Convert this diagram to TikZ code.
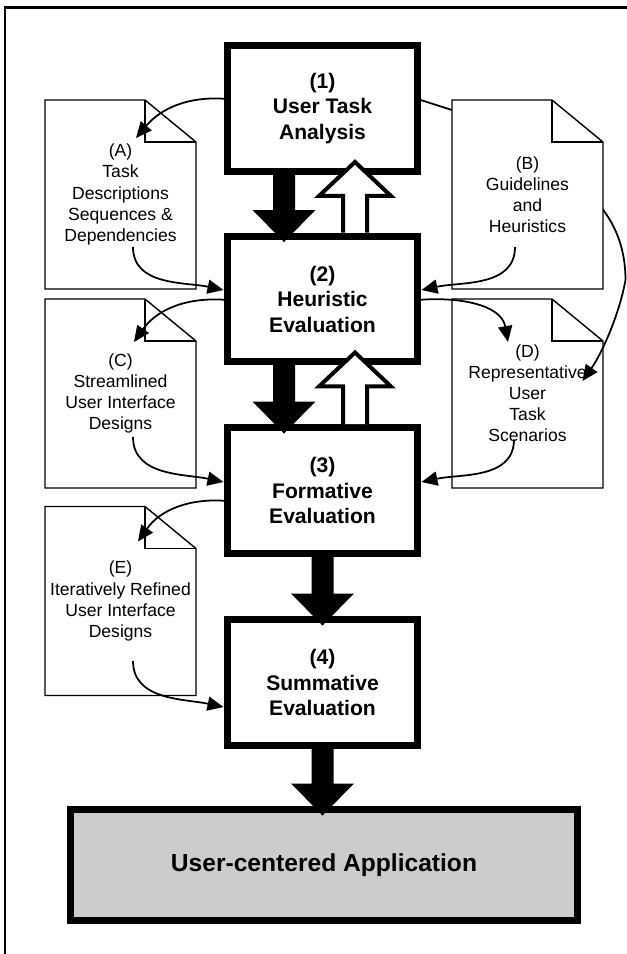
\documentclass[tikz,border=0pt]{standalone}
\usepackage{fontspec}
\setmainfont{Liberation Sans}
\usetikzlibrary{arrows.meta, calc, backgrounds}

\begin{document}
\begin{tikzpicture}[x=0.02cm, y=0.02cm,
        stage/.style={draw, line width=0.14cm, minimum width=3.8cm, minimum height=2.52cm,
            inner sep=0pt, outer sep=0pt, align=center, font=\bfseries\fontsize{12}{14.5}\selectfont},
        doc/.style={minimum width=3.02cm, minimum height=3.78cm, inner sep=0pt, outer sep=0pt,
            align=center, font=\fontsize{10}{12}\selectfont},
        docline/.style={draw, fill=white, line width=0.8pt},
        flow/.style={line width=1pt, -{Triangle[length=0.32cm, width=0.28cm]}},
        down block/.style={fill=black, to path={let \p1=(\tikztostart), \p2=(\tikztotarget) in
            (\x1-0.22cm,\y1) -- (\x1-0.22cm,\y2+0.64cm) -- (\x1-0.63cm,\y2+0.64cm) -- (\x2,\y2)
            -- (\x1+0.63cm,\y2+0.64cm) -- (\x1+0.22cm,\y2+0.64cm) -- (\x1+0.22cm,\y1)}},
        up block/.style={draw, fill=white, line width=0.08cm, miter limit=10,
            to path={let \p1=(\tikztostart), \p2=(\tikztotarget) in
            (\x1-0.24cm,\y1) -- (\x1-0.24cm,\y2-0.68cm) -- (\x1-0.72cm,\y2-0.68cm) -- (\x2,\y2)
            -- (\x1+0.72cm,\y2-0.68cm) -- (\x1+0.24cm,\y2-0.68cm) -- (\x1+0.24cm,\y1)}}
    ]
        \useasboundingbox (0,0) rectangle (626,-954);

        % the four stages
        \node[stage] (b1) at (322.5,-108.5) {(1)\\User Task\\Analysis};
        \node[stage] (b2) at (322.5,-299) {(2)\\Heuristic\\Evaluation};
        \node[stage] (b3) at (322.5,-490.5) {(3)\\Formative\\Evaluation};
        \node[stage] (b4) at (322.5,-682.5) {(4)\\Summative\\Evaluation};
        \node[stage, fill=black!20, minimum width=10.14cm, minimum height=2.22cm,
            font=\bfseries\fontsize{14}{16}\selectfont] (app) at (324,-865) {User-centered Application};

        % documents
        \node[doc] (docA) at (120.5,-194.5) {(A)\\Task\\Descriptions\\Sequences \&\\Dependencies};
        \node[doc] (docB) at (527.5,-194.5) {(B)\\Guidelines\\and\\Heuristics};
        \node[doc] (docC) at (120.5,-393.5) {(C)\\Streamlined\\User Interface\\Designs};
        \node[doc] (docD) at (527.5,-393.5) {(D)\\Representative\\User\\Task\\Scenarios};
        \node[doc] (docE) at (120.5,-601) {(E)\\Iteratively Refined\\User Interface\\Designs};

        \begin{pgfonlayer}{background}
            \draw[line width=0.06cm] (5,-7) rectangle (700,-1000);
            \path[docline] (docD.north west) -- ($(docD.north east)+(-51,0)$) -- ($(docD.north east)+(0,-42)$)
                -- (docD.south east) -- (docD.south west) -- cycle;
            \draw[line width=0.8pt] ($(docD.north east)+(-51,0)$) |- ($(docD.north east)+(0,-42)$);
            % long link behind (B)
            \draw[flow] ($(b1.east)+(0,9.5)$) -- ($(docB.north west)+(0,-10)$)
                to[out=-30, in=90] ($(docB.east)+(22.5,-85.5)$)
                to[out=-100, in=55, looseness=0.8] ($(docD.north east)+(-20.5,-82)$);
            \foreach \d in {docA,docB,docC,docE} {
                \path[docline] (\d.north west) -- ($(\d.north east)+(-51,0)$) -- ($(\d.north east)+(0,-42)$)
                    -- (\d.south east) -- (\d.south west) -- cycle;
                \draw[line width=0.8pt] ($(\d.north east)+(-51,0)$) |- ($(\d.north east)+(0,-42)$);
            }
        \end{pgfonlayer}

        % block arrows
        \path[down block] ($(b1.south)+(-38.5,0)$) to ($(b2.north)+(-38.5,-6)$);
        \path[down block] ($(b2.south)+(-38.5,0)$) to ($(b3.north)+(-38.5,-6)$);
        \path[down block] (b3.south) to ($(b4.north)+(0,-6)$);
        \path[down block] (b4.south) to ($(b4.south |- app.north)+(0,-6)$);
        \path[up block] ($(b2.north)+(32.5,3.5)$) to ($(b1.south)+(32.5,9.5)$);
        \path[up block] ($(b3.north)+(32.5,3.5)$) to ($(b2.south)+(32.5,9.5)$);

        % documents in and out
        \draw[flow] ($(b1.west)+(0,9.5)$) to[out=175, in=50] ($(docA.north east)+(-60,-38)$);
        \draw[flow] ($(docA.center)+(12.5,-52.5)$) to[out=-90, in=168] ($(b2.west)+(-4,9)$);
        \draw[flow] ($(docB.center)+(-12.5,-52.5)$) to[out=-90, in=12] ($(b2.east)+(4,9)$);
        \draw[flow] ($(b2.west)+(0,-1)$) to[out=175, in=55] ($(docC.north east)+(-62,-43)$);
        \draw[flow] ($(b2.east)+(0,-1)$) to[out=5, in=100] ($(docD.north east)+(-95,-43)$);
        \draw[flow] ($(docC.center)+(12.5,-43.5)$) to[out=-90, in=168] ($(b3.west)+(-4,8.5)$);
        \draw[flow] ($(docD.center)+(-13.5,-46)$) to[out=-90, in=12] ($(b3.east)+(4,8.5)$);
        \draw[flow] ($(b3.west)+(0,-10.5)$) to[out=175, in=55] ($(docE.north east)+(-58,-35)$);
        \draw[flow] ($(docE.center)+(12.5,-60)$) to[out=-90, in=168] ($(b4.west)+(-4,-24.5)$);
\end{tikzpicture}
\end{document}
